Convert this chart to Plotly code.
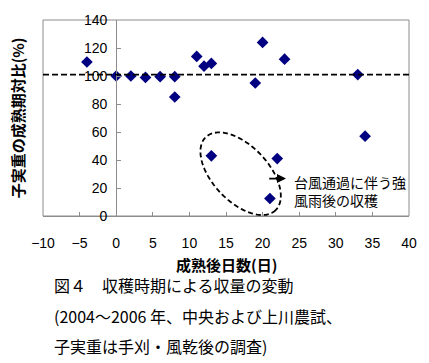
import numpy as np
import plotly.graph_objects as go

# Data
days_after_maturity = [-4, 0, 2, 4, 6, 8, 8, 11, 12, 13, 13, 19, 20, 21, 22, 23, 33, 34]
yield_ratio = [110, 100, 100, 99, 99.5, 99.5, 85, 114, 107, 109, 43, 95, 124, 12.5, 41, 112, 101, 57]
x_ticks = [-10, -5, 0, 5, 10, 15, 20, 25, 30, 35, 40]
y_ticks = [0, 20, 40, 60, 80, 100, 120, 140]
reference_level = 101

W, H = 429, 363
ML, MR, MT, MB = 43, 15, 19, 147
PW, PH = W - ML - MR, H - MT - MB
XR = (-10, 40)
YR = (0, 140)
px_per_x = PW / (XR[1] - XR[0])
px_per_y = PH / (YR[1] - YR[0])

CJK = "Noto Sans CJK JP"
NUM = "Liberation Sans, Arial"
GRAY = "#8c8c8c"

fig = go.Figure()
fig.add_trace(go.Scatter(
    x=days_after_maturity, y=yield_ratio, mode="markers",
    marker=dict(symbol="diamond", size=9, color="#000080", line=dict(width=0)),
    showlegend=False, cliponaxis=False,
))

# ellipse around typhoon-affected points (defined in pixel shape, converted to data units)
cx, cy = 17.0, 30.2
a_px, b_px, th = 51, 28, np.deg2rad(46)
t = np.linspace(0, 2 * np.pi, 120)
dx = a_px * np.cos(t) * np.cos(th) - b_px * np.sin(t) * np.sin(th)
dy = a_px * np.cos(t) * np.sin(th) + b_px * np.sin(t) * np.cos(th)
ex = cx + dx / px_per_x
ey = cy - dy / px_per_y
path = "M " + " L ".join(f"{x:.3f},{y:.3f}" for x, y in zip(ex, ey)) + " Z"

shapes = [
    dict(type="rect", xref="paper", yref="paper", x0=0, x1=1, y0=0, y1=1,
         line=dict(color=GRAY, width=1), layer="below"),
    dict(type="line", xref="paper", yref="y", x0=0, x1=1, y0=reference_level, y1=reference_level,
         line=dict(color="black", width=1.6, dash="6px,3px")),
    dict(type="path", xref="x", yref="y", path=path,
         line=dict(color="black", width=1.8, dash="5px,3px")),
]

annotations = [
    dict(x=23.2, y=26.7, ax=20.7, ay=26.7, xref="x", yref="y", axref="x", ayref="y",
         text="", showarrow=True, arrowhead=2, arrowsize=1, arrowwidth=1.8, arrowcolor="black"),
    dict(x=24.0, y=18.2, xref="x", yref="y", xanchor="left", yanchor="middle", align="left",
         text="台風通過に伴う強<br>風雨後の収穫", showarrow=False,
         font=dict(family=CJK, size=14, color="black")),
    dict(x=(17 - ML) / PW, y=0.5, xref="paper", yref="paper", textangle=-90,
         text="子実重の成熟期対比(%)", showarrow=False, xanchor="center", yanchor="middle",
         font=dict(family=CJK, size=15, color="black", weight="bold")),
    dict(x=0.5, y=(PH - (265 - MT)) / PH, xref="paper", yref="paper",
         text="成熟後日数(日)", showarrow=False, xanchor="center", yanchor="middle",
         font=dict(family=CJK, size=15, color="black", weight="bold")),
]
captions = ["図４　収穫時期による収量の変動",
            "(2004～2006 年、中央および上川農試、",
            "子実重は手刈・風乾後の調査)"]
for txt, ypx in zip(captions, [285, 316.5, 347]):
    annotations.append(dict(x=(52 - ML) / PW, y=(PH - (ypx - MT)) / PH, xref="paper", yref="paper",
                            text=txt, showarrow=False, xanchor="left", yanchor="middle",
                            font=dict(family=CJK, size=16, color="black")))

fig.update_layout(
    width=W, height=H, margin=dict(l=ML, r=MR, t=MT, b=MB, pad=0),
    paper_bgcolor="white", plot_bgcolor="white",
    shapes=shapes, annotations=annotations,
    xaxis=dict(range=list(XR), tickvals=x_ticks, ticks="inside", ticklen=4, tickcolor=GRAY,
               showline=True, linecolor=GRAY, linewidth=1, showgrid=False, zeroline=False,
               tickfont=dict(family=NUM, size=14, color="black"), ticklabelstandoff=14),
    yaxis=dict(range=list(YR), tickvals=y_ticks, ticks="inside", ticklen=4, tickcolor=GRAY,
               showline=True, linecolor=GRAY, linewidth=1, showgrid=False, zeroline=False,
               anchor="free", position=(0 - XR[0]) / (XR[1] - XR[0]),
               tickfont=dict(family=NUM, size=14, color="black"), ticklabelstandoff=6),
)

fig.write_html("out.html", config={"displayModeBar": False},
               post_script="document.body.style.margin='0';document.body.style.overflow='hidden';")
